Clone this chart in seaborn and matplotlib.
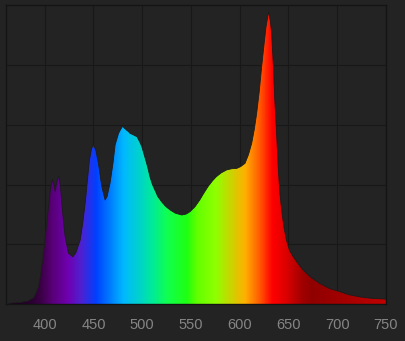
import numpy as np
import pandas as pd
import matplotlib
matplotlib.use("Agg")
import matplotlib.pyplot as plt
import seaborn as sns
from matplotlib.colors import LinearSegmentedColormap, Normalize
from matplotlib.patches import Polygon

# ---- data ----
wavelength = [360, 365, 375, 383, 388.5, 391, 393.7, 396, 398.8, 401.5, 404, 406, 408, 409.5,
              410.8, 412.5, 414.5, 416, 417.6, 419.5, 421, 424.4, 428.9, 432, 436.4, 439,
              441.5, 444, 445.9, 448, 450, 452.5, 455.1, 458.6, 462, 464, 467, 470, 472.2,
              475.7, 478, 480, 482, 484, 486, 487.6, 490, 492.7, 494.5, 496, 497.9, 499.6, 503,
              505.5, 508, 510.5, 513, 516, 520, 524, 528.6, 534, 540.6, 545, 549, 554, 559,
              563, 567.5, 572, 576, 581, 586.7, 592, 597, 601, 605.5, 609, 612.3, 615,
              617.4, 620, 622.5, 625, 627, 629.7, 631.5, 632.8, 634.5, 636, 638, 639.5,
              641, 643, 645.5, 648, 651, 655, 660, 665, 672, 682, 692, 702.9, 712, 723,
              735, 747, 750]
intensity = [0.0, 0.003, 0.005, 0.01, 0.02, 0.035, 0.058, 0.10, 0.17, 0.25, 0.326, 0.39, 0.417,
             0.40, 0.376, 0.41, 0.428, 0.40, 0.337, 0.27, 0.225, 0.17, 0.158, 0.172, 0.214,
             0.27, 0.337, 0.42, 0.482, 0.52, 0.532, 0.515, 0.471, 0.393, 0.348, 0.36, 0.404,
             0.47, 0.532, 0.571, 0.585, 0.595, 0.588, 0.582, 0.577, 0.571, 0.568, 0.563, 0.561,
             0.552, 0.540, 0.527, 0.489, 0.46, 0.426, 0.40, 0.382, 0.36, 0.342, 0.327, 0.315,
             0.304, 0.298, 0.301, 0.309, 0.325, 0.348, 0.37, 0.393, 0.412, 0.426, 0.439,
             0.449, 0.453, 0.454, 0.46, 0.471, 0.50, 0.538, 0.585, 0.638, 0.71, 0.794, 0.87,
             0.928, 0.979, 0.945, 0.906, 0.80, 0.683, 0.56, 0.46, 0.38, 0.315, 0.255, 0.214,
             0.18, 0.158, 0.135, 0.114, 0.092, 0.069, 0.052, 0.041, 0.031, 0.024, 0.019,
             0.017, 0.016]
tick_values = [400, 450, 500, 550, 600, 650, 700, 750]
tick_labels = ["400", "450", "500", "550", "600", "650", "700", "750"]

# spectral colour stops (wavelength, colour)
stop_nm = [360, 385, 395, 405, 423, 436, 452, 467, 480, 495, 508, 525, 546, 555, 575, 592,
           605, 619, 633, 646, 664, 674, 700, 750]
stop_col = ["#1a0020", "#2a0030", "#3a0045", "#550070", "#7000b0", "#5020d0", "#0040ff",
            "#0080ff", "#00b8ff", "#00d0d0", "#00e8a0", "#10ff50", "#20ff10", "#60ff00",
            "#90ff00", "#d0d000", "#ffb000", "#ff6000", "#ff0000", "#e00000", "#a00000",
            "#900000", "#a00000", "#c00000"]

df = pd.DataFrame({"wavelength": wavelength, "intensity": intensity})

BG = "#232323"
sns.set_theme(style="dark", rc={
    "figure.facecolor": BG, "axes.facecolor": BG,
    "axes.edgecolor": "#141414", "grid.color": "#181818",
})
plt.rcParams["font.family"] = ["Liberation Sans", "DejaVu Sans"]

fig = plt.figure(figsize=(4.05, 3.41), dpi=100)
ax = fig.add_axes([0.014, 0.1085, 0.939, 0.876])

xmin, xmax = 360, 750
cmap = LinearSegmentedColormap.from_list(
    "spec", [((n - xmin) / (xmax - xmin), c) for n, c in zip(stop_nm, stop_col)])

grad = np.linspace(xmin, xmax, 1000)[None, :]
im = ax.imshow(grad, extent=[xmin, xmax, 0, 1], aspect="auto", cmap=cmap,
               norm=Normalize(xmin, xmax), origin="lower", zorder=2,
               interpolation="bilinear")
verts = np.column_stack([df["wavelength"].to_numpy(), df["intensity"].to_numpy()])
verts = np.vstack([verts, [[xmax, 0], [xmin, 0]]])
patch = Polygon(verts, closed=True, transform=ax.transData, facecolor="none",
                edgecolor="none")
ax.add_patch(patch)
im.set_clip_path(patch)

sns.lineplot(data=df, x="wavelength", y="intensity", ax=ax, color="#1c1c1c",
             linewidth=0.6, zorder=3)

ax.set_xlim(xmin, xmax)
ax.set_ylim(0, 1)
ax.set_xticks(tick_values)
ax.set_xticklabels(tick_labels)
ax.set_yticks([0.2, 0.4, 0.6, 0.8])
ax.set_yticklabels([])
ax.grid(True, color="#181818", linewidth=0.8, zorder=0)
ax.set_axisbelow(True)
ax.tick_params(axis="x", colors="#858585", labelsize=10.5, length=0, pad=10)
ax.tick_params(axis="y", length=0)
ax.set_xlabel("")
ax.set_ylabel("")
for s in ax.spines.values():
    s.set_color("#141414")
    s.set_linewidth(1.0)
    s.set_visible(True)

fig.savefig("out.png", dpi=100, facecolor=BG)
